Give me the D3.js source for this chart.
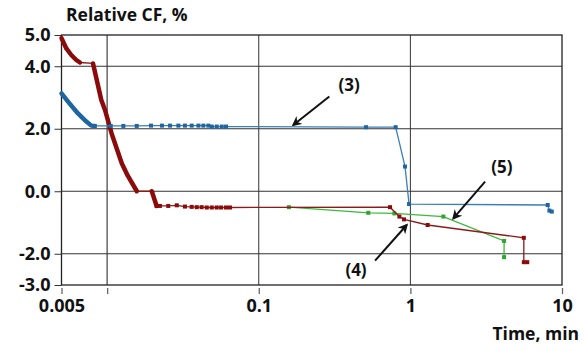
<!DOCTYPE html>
<head>
<meta charset="utf-8">
<title>Relative CF vs time</title>
<script src="https://d3js.org/d3.v7.min.js"></script>
<style>
  body { margin: 0; background: #fff; }
  text { font-family: "Open Sans", sans-serif; font-weight: bold; fill: #111; }
</style>
</head>
<body>
<div id="chart"></div>
<script>
// axis ticks
var xTicks = [0.005, 0.01, 0.1, 1, 10];
var xTickLabels = ["0.005", "", "0.1", "1", "10"];
var yTicks = [5, 4, 2, 0, -2, -3];
var yTickLabels = ["5.0", "4.0", "2.0", "0.0", "-2.0", "-3.0"];
var xGrid = [0.01, 0.1, 1];
var yGrid = [4, 2, 0, -2];

// series (3), blue: dense start then sparse points
var s3Dense = [[0.005, 3.13], [0.00552, 2.87], [0.00642, 2.49], [0.00729, 2.23], [0.00786, 2.1], [0.00828, 2.09]];
var s3Pts = [[0.00828, 2.09], [0.01056, 2.09], [0.01279, 2.09], [0.01567, 2.09], [0.01947, 2.1], [0.023, 2.1],
  [0.026, 2.1], [0.0295, 2.1], [0.0326, 2.1], [0.0361, 2.1], [0.04, 2.1], [0.0431, 2.1], [0.0465, 2.1],
  [0.049, 2.07], [0.0528, 2.07], [0.057, 2.07], [0.0608, 2.07], [0.51, 2.05], [0.80, 2.05],
  [0.922, 0.79], [0.98, -0.41], [8.05, -0.44], [8.26, -0.62], [8.56, -0.65]];

// series (4), dark red: thick runs then sparse points
var s4Run1 = [[0.005, 4.9], [0.00538, 4.57], [0.0058, 4.36], [0.00626, 4.2], [0.00662, 4.12]];
var s4Run2 = [[0.00807, 4.09], [0.00915, 2.92], [0.00968, 2.6], [0.0107, 1.85], [0.0125, 0.89], [0.0137, 0.49], [0.0157, 0.0]];
var s4Run3 = [[0.0197, 0.0], [0.0212, -0.47]];
var s4Pts = [[0.0212, -0.47], [0.0223, -0.47], [0.0253, -0.47], [0.0288, -0.45], [0.0326, -0.49], [0.0361, -0.5],
  [0.039, -0.51], [0.042, -0.51], [0.0454, -0.52], [0.049, -0.52], [0.0528, -0.52], [0.0564, -0.52],
  [0.0608, -0.52], [0.0646, -0.52], [0.734, -0.51], [0.846, -0.81], [0.908, -0.9], [1.30, -1.08],
  [5.6, -1.49], [5.6, -2.27], [5.9, -2.27]];

// series (5), green
var s5Pts = [[0.158, -0.51], [0.528, -0.69], [0.784, -0.71], [1.65, -0.81], [4.15, -1.59], [4.15, -2.11]];

// annotations: label, label position, arrow from, arrow to
var notes = [
  {label: "(3)", at: [0.394, 3.4], from: [0.292, 3.03], to: [0.169, 2.12]},
  {label: "(5)", at: [4.02, 0.78], from: [3.11, 0.31], to: [1.92, -0.87]},
  {label: "(4)", at: [0.438, -2.52], from: [0.585, -2.22], to: [0.946, -1.08]}
];

var W = 584, H = 351;
var margin = {top: 35, right: 22, bottom: 66, left: 61.5},
    width = W - margin.left - margin.right,
    height = H - margin.top - margin.bottom;

var svg = d3.select("#chart").append("svg")
    .attr("width", W).attr("height", H);

var defs = svg.append("defs");
defs.append("marker")
    .attr("id", "arrow")
    .attr("viewBox", "0 0 10 10")
    .attr("refX", 8).attr("refY", 5)
    .attr("markerWidth", 5).attr("markerHeight", 5)
    .attr("orient", "auto")
  .append("path")
    .attr("d", "M0,0 L10,5 L0,10 L3,5 Z")
    .attr("fill", "#111");

var g = svg.append("g")
    .attr("transform", "translate(" + margin.left + "," + margin.top + ")");

var x = d3.scaleLog().domain([0.005, 10]).range([0, width]);
var y = d3.scaleLinear().domain([-3, 5]).range([height, 0]);

// grid
g.selectAll(".xgrid").data(xGrid).enter().append("line")
    .attr("x1", d => x(d)).attr("x2", d => x(d))
    .attr("y1", 0).attr("y2", height)
    .attr("stroke", d => d == 0.01 ? "#666" : "#333").attr("stroke-width", d => d == 0.01 ? 1.5 : 1);
g.selectAll(".ygrid").data(yGrid).enter().append("line")
    .attr("x1", 0).attr("x2", width)
    .attr("y1", d => y(d)).attr("y2", d => y(d))
    .attr("stroke", "#333").attr("stroke-width", 1);

// frame
g.append("rect").attr("width", width).attr("height", height)
    .attr("fill", "none").attr("stroke", "#222").attr("stroke-width", 1.3);

// axes
var yAxis = g.append("g")
    .call(d3.axisLeft(y).tickValues(yTicks).tickSize(7).tickFormat((d, i) => yTickLabels[i]));
yAxis.select(".domain").remove();
yAxis.selectAll("line").attr("stroke", "#333");
yAxis.selectAll("text").attr("font-size", 18).attr("font-family", "Open Sans").attr("font-weight", "bold")
    .attr("fill", "#111").attr("text-anchor", "end").attr("x", -11);

var xAxis = g.append("g")
    .attr("transform", "translate(0," + (height + 3) + ")")
    .call(d3.axisBottom(x).tickValues(xTicks).tickSize(6).tickFormat((d, i) => xTickLabels[i]));
xAxis.select(".domain").remove();
xAxis.selectAll("line").attr("stroke", "#666").attr("stroke-width", 1.3);
xAxis.selectAll("text").attr("font-size", 18).attr("font-family", "Open Sans").attr("font-weight", "bold").attr("fill", "#111").attr("dy", "0.85em");

// axis titles
svg.append("text").attr("x", 66).attr("y", 21).attr("font-size", 17.5).text("Relative CF, %");
svg.append("text").attr("x", 579).attr("y", 340).attr("text-anchor", "end").attr("font-size", 17.5).text("Time, min");

var line = d3.line().x(d => x(d[0])).y(d => y(d[1]));

function drawSeries(runs, pts, color, thinColor, runWidth) {
  var all = [];
  runs.forEach(r => { all = all.concat(r); });
  all = all.concat(pts);
  g.append("path").datum(all).attr("d", line)
      .attr("fill", "none").attr("stroke", thinColor).attr("stroke-width", 1.3);
  runs.forEach(r => {
    g.append("path").datum(r).attr("d", line)
        .attr("fill", "none").attr("stroke", color).attr("stroke-width", runWidth)
        .attr("stroke-linejoin", "round").attr("stroke-linecap", "round");
  });
  g.selectAll(null).data(pts).enter().append("rect")
      .attr("x", d => x(d[0]) - 2).attr("y", d => y(d[1]) - 2)
      .attr("width", 4).attr("height", 4).attr("fill", color);
}

drawSeries([], s5Pts, "#2ea52e", "#3cb83c", 0);
drawSeries([s4Run1, s4Run2, s4Run3], s4Pts, "#8b0a0a", "#8b1a1a", 4.5);
drawSeries([s3Dense], s3Pts, "#1f65a0", "#3a7fb6", 4.5);

// annotations
notes.forEach(n => {
  g.append("line")
      .attr("x1", x(n.from[0])).attr("y1", y(n.from[1]))
      .attr("x2", x(n.to[0])).attr("y2", y(n.to[1]))
      .attr("stroke", "#111").attr("stroke-width", 2)
      .attr("marker-end", "url(#arrow)");
  g.append("text").attr("x", x(n.at[0])).attr("y", y(n.at[1]))
      .attr("text-anchor", "middle").attr("dy", "0.35em")
      .attr("font-size", 17).text(n.label);
});
</script>
</body>
